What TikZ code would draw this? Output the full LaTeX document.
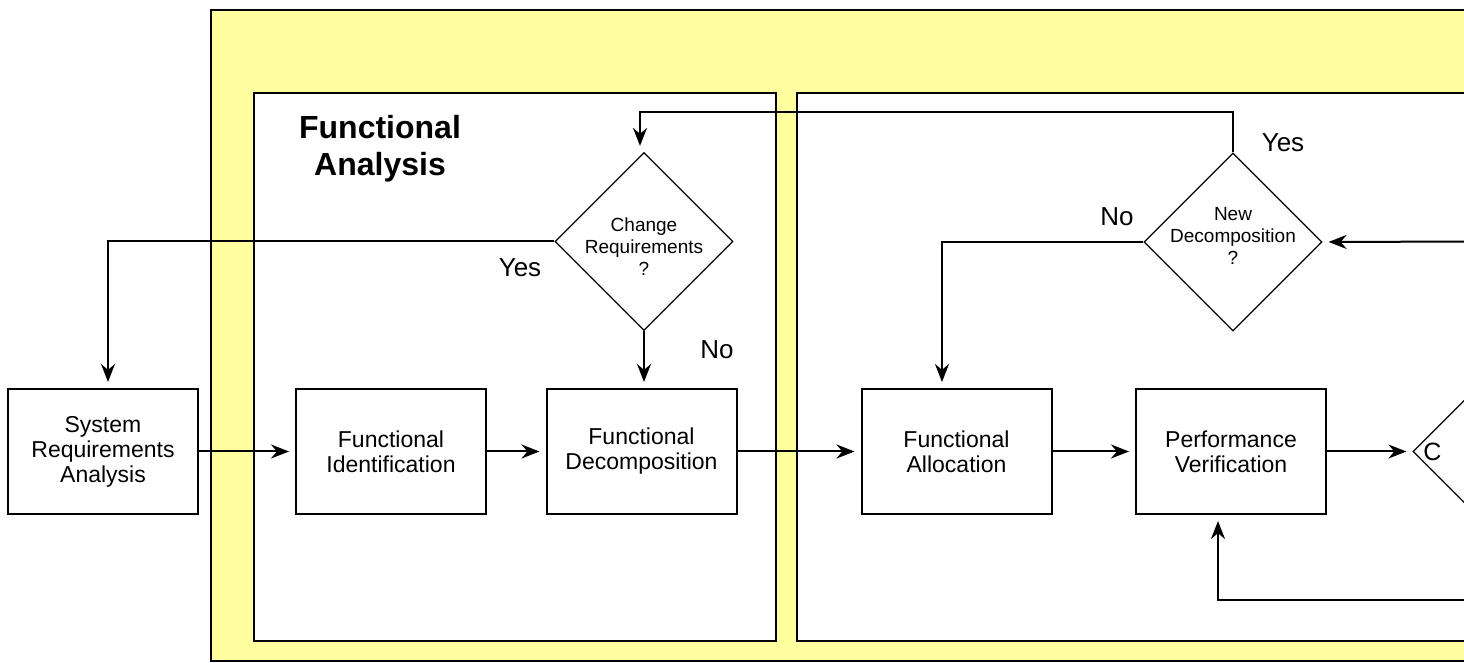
\documentclass[tikz,border=0pt]{standalone}
\usepackage{fontspec}
\setmainfont{Liberation Sans}
\usetikzlibrary{shapes.geometric,arrows.meta}
\definecolor{panelyellow}{RGB}{255,255,160}
\begin{document}
\begin{tikzpicture}[x=0.5pt,y=-0.5pt,
  stepbox/.style={draw, line width=1pt, fill=white, minimum width=95pt,
    minimum height=62.5pt, inner sep=0pt, align=center,
    font=\fontsize{11.5}{12.5}\selectfont},
  decision/.style={draw, line width=0.6pt, fill=white, diamond, aspect=1,
    minimum width=89pt, minimum height=89pt, inner sep=0pt},
  decisiontext/.style={align=center, inner sep=0pt,
    font=\fontsize{9.5}{11}\selectfont},
  flow/.style={line width=1pt, -{Stealth[length=9pt,width=7pt]}, shorten >=3pt},
  answer/.style={font=\fontsize{13}{15}\selectfont},
  frame/.style={draw, line width=1pt},
]
\useasboundingbox (0,0) rectangle (1464,663);
\clip (0,0) rectangle (1464,663);

% background areas
\fill[white] (0,0) rectangle (1464,663);
\filldraw[frame, fill=panelyellow] (211,10) rectangle (1490,661);
\filldraw[frame, fill=white] (254,93) rectangle (776,641);
\filldraw[frame, fill=white] (797,93) rectangle (1490,641);

\node[font=\bfseries\fontsize{16}{18.5}\selectfont, align=center] (title)
  at (380,149) {Functional\\Analysis};

% process steps
\node[stepbox] (sra) at (103,451.5) {System\\Requirements\\Analysis};
\node[stepbox] (fi)  at (391,451.5) {Functional\\Identification};
\node[stepbox] (fd)  at (641.5,451.5) {Functional\\Decomposition};
\node[stepbox] (fa)  at (956.5,451.5) {Functional\\Allocation};
\node[stepbox] (pv)  at (1231,451.5) {Performance\\Verification};

% decisions
\node[decision] (cr) at (644,241.5) {};
\node[decisiontext] (crtext) at (644,247) {Change\\Requirements\\?};
\node[decision] (nd) at (1233,242) {};
\node[decisiontext] (ndtext) at (1233,236) {New\\Decomposition\\?};
\node[decision] (cd) at (1502,451.5) {};
\node[decisiontext, anchor=west, font=\fontsize{12.5}{14}\selectfont] (cdtext)
  at (1423,451.5) {C};

% answers
\node[answer] (cryes) at (520,268) {Yes};
\node[answer] (crno)  at (717,350) {No};
\node[answer] (ndyes) at (1283,143) {Yes};
\node[answer] (ndno)  at (1117,217) {No};

% loose ends coming from the right
\coordinate (inR) at (1480,241.5);
\coordinate (inB) at (1480,600);

% main flow
\draw[flow] (sra.east) -- (fi.west);
\draw[flow] (fi.east) -- (fd.west);
\draw[flow] (fd.east) -- (fa.west);
\draw[flow] (fa.east) -- (pv.west);
\draw[flow] (pv.east) -- (cd.west);

% decision branches
\draw[flow] (cr.west) -| ([xshift=2.5pt]sra.north);
\draw[flow] (cr.south) -- (cr.south |- fd.north);
\draw[flow] (nd.north) -- ++(0,-40) -| ([xshift=-2pt]cr.north);
\draw[flow] (nd.west) -| ([xshift=-7.25pt]fa.north);
\draw[flow] (inR) -- (nd.east);
\draw[flow] (inB) -| ([xshift=-6.5pt]pv.south);
\end{tikzpicture}
\end{document}
